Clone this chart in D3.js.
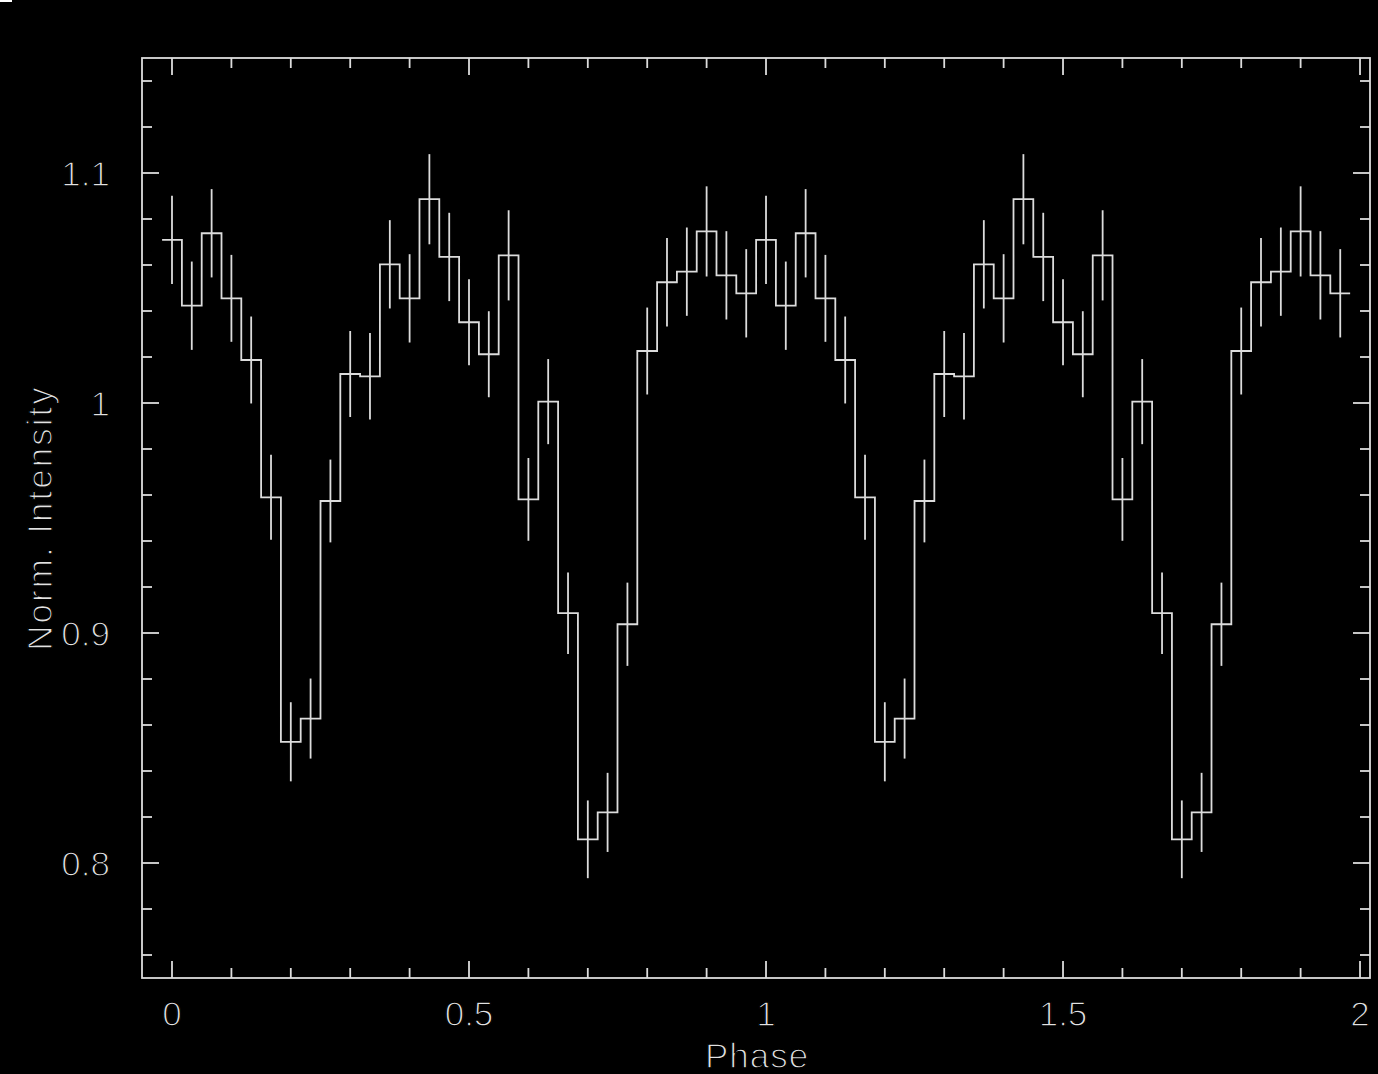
<!DOCTYPE html>
<html>
<head>
<meta charset="utf-8">
<script src="https://cdn.jsdelivr.net/npm/d3@7"></script>
<style>
  html, body { margin: 0; padding: 0; background: #000; }
  svg { display: block; }
</style>
</head>
<body>
<svg id="chart" width="1378" height="1074"></svg>
<script>
// ---- Data ----
const phases = [
  0.0000, 0.0333, 0.0667, 0.1000, 0.1333, 0.1667, 0.2000, 0.2333, 0.2667, 0.3000,
  0.3333, 0.3667, 0.4000, 0.4333, 0.4667, 0.5000, 0.5333, 0.5667, 0.6000, 0.6333,
  0.6667, 0.7000, 0.7333, 0.7667, 0.8000, 0.8333, 0.8667, 0.9000, 0.9333, 0.9667,
  1.0000, 1.0333, 1.0667, 1.1000, 1.1333, 1.1667, 1.2000, 1.2333, 1.2667, 1.3000,
  1.3333, 1.3667, 1.4000, 1.4333, 1.4667, 1.5000, 1.5333, 1.5667, 1.6000, 1.6333,
  1.6667, 1.7000, 1.7333, 1.7667, 1.8000, 1.8333, 1.8667, 1.9000, 1.9333, 1.9667
];
const intensity = [
  1.0709, 1.0423, 1.0738, 1.0455, 1.0187, 0.9590, 0.8527, 0.8628, 0.9574, 1.0126,
  1.0116, 1.0603, 1.0455, 1.0886, 1.0635, 1.0351, 1.0212, 1.0642, 0.9581, 1.0006,
  0.9086, 0.8103, 0.8220, 0.9038, 1.0226, 1.0525, 1.0571, 1.0746, 1.0555, 1.0477,
  1.0709, 1.0423, 1.0738, 1.0455, 1.0187, 0.9590, 0.8527, 0.8628, 0.9574, 1.0126,
  1.0116, 1.0603, 1.0455, 1.0886, 1.0635, 1.0351, 1.0212, 1.0642, 0.9581, 1.0006,
  0.9086, 0.8103, 0.8220, 0.9038, 1.0226, 1.0525, 1.0571, 1.0746, 1.0555, 1.0477
];
const errors = [
  0.0192, 0.0192, 0.0192, 0.0189, 0.0189, 0.0185, 0.0172, 0.0174, 0.0180, 0.0187,
  0.0188, 0.0192, 0.0192, 0.0196, 0.0192, 0.0187, 0.0187, 0.0196, 0.0180, 0.0185,
  0.0177, 0.0169, 0.0172, 0.0181, 0.0189, 0.0192, 0.0192, 0.0196, 0.0192, 0.0192,
  0.0192, 0.0192, 0.0192, 0.0189, 0.0189, 0.0185, 0.0172, 0.0174, 0.0180, 0.0187,
  0.0188, 0.0192, 0.0192, 0.0196, 0.0192, 0.0187, 0.0187, 0.0196, 0.0180, 0.0185,
  0.0177, 0.0169, 0.0172, 0.0181, 0.0189, 0.0192, 0.0192, 0.0196, 0.0192, 0.0192
];
const binWidth = 1 / 30;
const xMajorTicks = [0, 0.5, 1, 1.5, 2];
const xTickLabels = ["0", "0.5", "1", "1.5", "2"];
const yMajorTicks = [0.8, 0.9, 1.0, 1.1];
const yTickLabels = ["0.8", "0.9", "1", "1.1"];
const xLabel = "Phase";
const yLabel = "Norm. Intensity";

// ---- Layout ----
const W = 1378, H = 1074;
const frame = { left: 142, right: 1370, top: 58, bottom: 978 };
const fg = "#dcdcdc";
const txt = "#e2e2e2";

const svg = d3.select("#chart");
svg.append("rect").attr("width", W).attr("height", H).attr("fill", "#000");
svg.append("rect").attr("x", 0).attr("y", 0).attr("width", 12).attr("height", 2).attr("fill", "#fff");

const x = d3.scaleLinear().domain([-0.0505, 2.0168]).range([frame.left, frame.right]);
const y = d3.scaleLinear().domain([0.75, 1.15]).range([frame.bottom, frame.top]);

// Frame
svg.append("rect")
  .attr("x", frame.left).attr("y", frame.top)
  .attr("width", frame.right - frame.left).attr("height", frame.bottom - frame.top)
  .attr("fill", "none").attr("stroke", fg).attr("stroke-width", 1.8);

const majLen = 17, minLen = 10;
const isMajor = (v, list) => list.some(m => Math.abs(m - v) < 1e-6);

// X ticks (every 0.1, major every 0.5) – bottom & top
const xMinor = d3.range(0, 21).map(i => i / 10);
const ticksG = svg.append("g").attr("stroke", fg).attr("stroke-width", 1.8);
xMinor.forEach(t => {
  const L = isMajor(t, xMajorTicks) ? majLen : minLen;
  const px = x(t);
  ticksG.append("line").attr("x1", px).attr("x2", px).attr("y1", frame.bottom).attr("y2", frame.bottom - L);
  ticksG.append("line").attr("x1", px).attr("x2", px).attr("y1", frame.top).attr("y2", frame.top + L);
});
// Y ticks (every 0.02, major every 0.1) – left & right
const yMinor = d3.range(38, 58, 1).map(i => i / 50).filter(v => v >= 0.75 && v <= 1.15);
yMinor.forEach(t => {
  const L = isMajor(t, yMajorTicks) ? majLen : minLen;
  const py = y(t);
  ticksG.append("line").attr("y1", py).attr("y2", py).attr("x1", frame.left).attr("x2", frame.left + L);
  ticksG.append("line").attr("y1", py).attr("y2", py).attr("x1", frame.right).attr("x2", frame.right - L);
});

const textStyle = sel => sel
  .attr("font-family", "'Liberation Sans', 'DejaVu Sans', sans-serif")
  .attr("font-size", 35)
  .attr("fill", txt)
  .attr("stroke", "#000")
  .attr("stroke-width", 1.3)
  .attr("paint-order", "normal");

// X tick labels
xMajorTicks.forEach((t, i) => {
  svg.append("text").call(textStyle)
    .attr("x", x(t)).attr("y", 1026)
    .attr("text-anchor", "middle")
    .text(xTickLabels[i]);
});
// Y tick labels
yMajorTicks.forEach((t, i) => {
  svg.append("text").call(textStyle)
    .attr("x", 110).attr("y", y(t) + 13)
    .attr("text-anchor", "end")
    .text(yTickLabels[i]);
});
// Axis titles
svg.append("text").call(textStyle)
  .attr("x", 757).attr("y", 1068)
  .attr("text-anchor", "middle")
  .attr("letter-spacing", 1)
  .text(xLabel);
svg.append("text").call(textStyle)
  .attr("transform", `translate(52,518) rotate(-90)`)
  .attr("text-anchor", "middle")
  .attr("letter-spacing", 2)
  .text(yLabel);

// Histogram step line
const stepPts = [];
phases.forEach((p, i) => {
  stepPts.push([p - binWidth / 2, intensity[i]]);
  stepPts.push([p + binWidth / 2, intensity[i]]);
});
const line = d3.line().x(d => x(d[0])).y(d => y(d[1]));
svg.append("path")
  .attr("d", line(stepPts))
  .attr("fill", "none").attr("stroke", fg).attr("stroke-width", 1.8);

// Error bars
svg.append("g").attr("stroke", fg).attr("stroke-width", 1.8)
  .selectAll("line").data(phases).join("line")
  .attr("x1", d => x(d)).attr("x2", d => x(d))
  .attr("y1", (d, i) => y(intensity[i] - errors[i]))
  .attr("y2", (d, i) => y(intensity[i] + errors[i]));
</script>
</body>
</html>
